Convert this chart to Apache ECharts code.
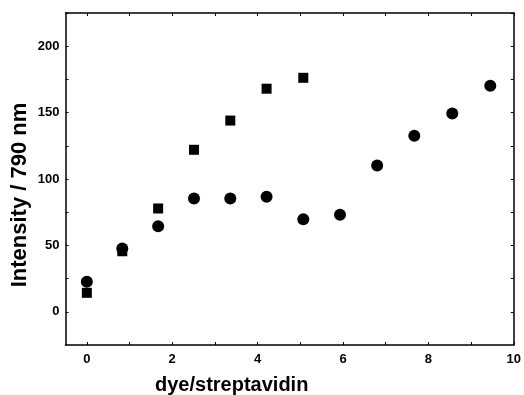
<!DOCTYPE html>
<html>
<head>
<meta charset="utf-8">
<script src="https://cdn.jsdelivr.net/npm/echarts@6/dist/echarts.min.js"></script>
<style>
  html, body { margin: 0; padding: 0; background: #fff; }
  #chart { width: 524px; height: 395px; }
</style>
</head>
<body>
<div id="chart"></div>
<script>
// dye per streptavidin ratio (x) and intensity at 790 nm (y)
const circleX = [0, 0.83, 1.67, 2.51, 3.36, 4.21, 5.07, 5.93, 6.8, 7.67, 8.56, 9.45]
const circleY = [22.6, 47.7, 64.5, 85.3, 85.3, 86.6, 69.7, 73, 110.2, 132.5, 149.3, 170.2]
const squareX = [0, 0.83, 1.67, 2.51, 3.36, 4.21, 5.07]
const squareY = [14.3, 45.6, 77.8, 122, 144, 168, 176.2]

const xLabels = [0, 2, 4, 6, 8, 10]
const xTicks = [0, 1, 2, 3, 4, 5, 6, 7, 8, 9, 10]
const yLabels = [0, 50, 100, 150, 200]
const yTicks = [0, 25, 50, 75, 100, 125, 150, 175, 200, 225]

const font = 'Liberation Sans, Arial, sans-serif'
const chart = echarts.init(document.getElementById('chart'))

const frameLine = { show: true, onZero: false, lineStyle: { color: '#000', width: 1.5 } }

const option = {
  animation: false,
  grid: { left: 65.5, right: 6.5, top: 13, bottom: 50 },
  xAxis: [
    {
      type: 'value', min: -0.5, max: 10,
      axisLine: frameLine,
      axisTick: { inside: true, length: 3, customValues: xTicks, lineStyle: { color: '#000' } },
      axisLabel: {
        customValues: xLabels, margin: 8, color: '#000',
        fontFamily: font, fontWeight: 'bold', fontSize: 13
      },
      splitLine: { show: false }
    },
    {
      type: 'value', position: 'top', min: -0.5, max: 10,
      axisLine: frameLine,
      axisTick: { inside: true, length: 3, customValues: xTicks, lineStyle: { color: '#000' } },
      axisLabel: { show: false },
      splitLine: { show: false }
    }
  ],
  yAxis: [
    {
      type: 'value', min: -25, max: 225,
      axisLine: frameLine,
      axisTick: { inside: true, length: 3, customValues: yTicks, lineStyle: { color: '#000' } },
      axisLabel: {
        customValues: yLabels, margin: 6, color: '#000',
        fontFamily: font, fontWeight: 'bold', fontSize: 13
      },
      splitLine: { show: false }
    },
    {
      type: 'value', position: 'right', min: -25, max: 225,
      axisLine: frameLine,
      axisTick: { inside: true, length: 3, customValues: yTicks, lineStyle: { color: '#000' } },
      axisLabel: { show: false },
      splitLine: { show: false }
    }
  ],
  graphic: [
    {
      type: 'text', left: 155, top: 375,
      style: {
        text: 'dye/streptavidin', fill: '#000',
        font: 'bold 20px ' + font
      }
    },
    {
      type: 'text', x: 20, y: 195, rotation: Math.PI / 2,
      style: {
        text: 'Intensity / 790 nm', fill: '#000',
        font: 'bold 22px ' + font,
        align: 'center', verticalAlign: 'middle'
      }
    }
  ],
  series: [
    {
      name: 'square',
      type: 'scatter',
      symbol: 'rect',
      symbolSize: 10,
      itemStyle: { color: '#000', opacity: 1 },
      data: squareX.map((x, i) => [x, squareY[i]])
    },
    {
      name: 'circle',
      type: 'scatter',
      symbol: 'circle',
      symbolSize: 12,
      itemStyle: { color: '#000', opacity: 1 },
      data: circleX.map((x, i) => [x, circleY[i]])
    }
  ]
}

chart.setOption(option)
</script>
</body>
</html>
